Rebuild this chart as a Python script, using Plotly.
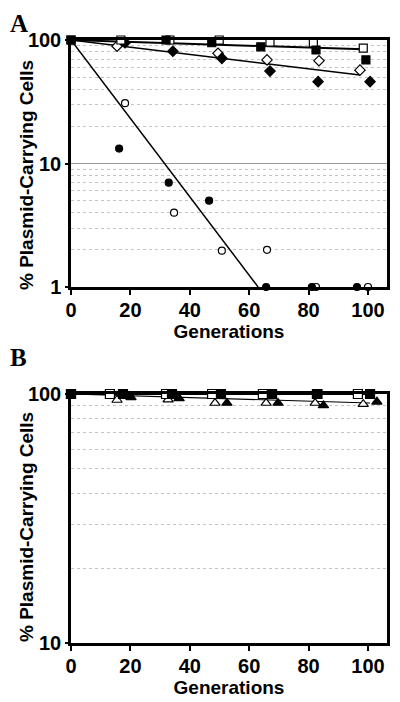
import plotly.graph_objects as go

# ---------------- Panel A data ----------------
a_open_sq_x = [0, 16.8, 33.3, 49.9, 67, 81.6, 98.4]
a_open_sq_y = [100, 100, 100, 100, 96, 95, 86]
a_fill_sq_x = [0, 32, 47.4, 63.9, 82.5, 99.3]
a_fill_sq_y = [100, 100, 95, 88, 83, 69]
a_open_di_x = [15.5, 49.5, 66, 83.5, 97.3]
a_open_di_y = [89, 78, 69, 68, 57]
a_fill_di_x = [18.2, 34.3, 50.8, 67, 83.2, 100.7]
a_fill_di_y = [95, 81, 71, 56, 46, 46]
a_open_ci_x = [18.2, 34.7, 50.8, 66, 82.5, 100]
a_open_ci_y = [30.8, 4.0, 1.97, 2.0, 1, 1]
a_fill_ci_x = [16.2, 32.9, 46.5, 65.7, 81.1, 96.3]
a_fill_ci_y = [13.2, 7.0, 5.0, 1, 1, 1]

a_fit_sq_x = [0, 98.4]
a_fit_sq_y = [100, 84]
a_fit_di_x = [0, 97.3]
a_fit_di_y = [100, 52]
a_fit_ci_x = [0, 63]
a_fit_ci_y = [100, 1]

# ---------------- Panel B data ----------------
b_open_sq_x = [0, 13.1, 32, 47.5, 64.6, 82.8, 96.6]
b_open_sq_y = [100, 100, 100, 100, 100, 100, 100]
b_fill_sq_x = [0, 17.5, 34, 50.5, 67.7, 83, 100.7]
b_fill_sq_y = [100, 100, 100, 100, 100, 100, 100]
b_open_tr_x = [15.5, 32.7, 48.5, 65.7, 82.2, 98.4]
b_open_tr_y = [94.6, 95, 92, 92, 92, 91]
b_fill_tr_x = [20.2, 36.4, 52.5, 69.7, 85, 103]
b_fill_tr_y = [97, 96, 92, 92, 90, 93]

b_fit_sq_x = [0, 100.7]
b_fit_sq_y = [100, 100]
b_fit_tr_x = [0, 100.7]
b_fit_tr_y = [100, 92]

x_ticks = [0, 20, 40, 60, 80, 100]
a_y_ticks = [1, 10, 100]
b_y_ticks = [10, 100]
a_minor = [v * m for m in (1, 10) for v in range(2, 10)]
b_minor = [v * 10 for v in range(2, 10)]
y_title = "% Plasmid-Carrying Cells"
x_title = "Generations"

FONT = "Liberation Sans"
OFF = 8          # page body margin
W, H = 400 - OFF, 702 - OFF


def px(x):
    return (x - OFF) / W


def py(y):
    return 1 - (y - OFF) / H


fig = go.Figure()


def line(x, y, xa, ya, w=1.5):
    fig.add_trace(go.Scatter(x=x, y=y, mode="lines", xaxis=xa, yaxis=ya,
                             line=dict(color="black", width=w), showlegend=False,
                             hoverinfo="skip"))


def pts(x, y, sym, filled, xa, ya, size=7):
    fig.add_trace(go.Scatter(
        x=x, y=y, mode="markers", xaxis=xa, yaxis=ya, showlegend=False,
        cliponaxis=False,
        marker=dict(symbol=sym, size=size, color="black" if filled else "white",
                    line=dict(color="black", width=1.2))))


# Panel A
line(a_fit_sq_x, a_fit_sq_y, "x", "y", 2)
line(a_fit_di_x, a_fit_di_y, "x", "y", 1.5)
line(a_fit_ci_x, a_fit_ci_y, "x", "y", 1.5)
pts(a_open_ci_x, a_open_ci_y, "circle", False, "x", "y")
pts(a_fill_ci_x, a_fill_ci_y, "circle", True, "x", "y")
pts(a_open_di_x, a_open_di_y, "diamond", False, "x", "y", 8)
pts(a_fill_di_x, a_fill_di_y, "diamond", True, "x", "y", 8)
pts(a_open_sq_x, a_open_sq_y, "square", False, "x", "y", 8)
pts(a_fill_sq_x, a_fill_sq_y, "square", True, "x", "y", 8)

# Panel B
line(b_fit_sq_x, b_fit_sq_y, "x2", "y2", 2)
line(b_fit_tr_x, b_fit_tr_y, "x2", "y2", 1.2)
pts(b_open_tr_x, b_open_tr_y, "triangle-up", False, "x2", "y2", 9)
pts(b_fill_tr_x, b_fill_tr_y, "triangle-up", True, "x2", "y2", 9)
pts(b_open_sq_x, b_open_sq_y, "square", False, "x2", "y2", 9)
pts(b_fill_sq_x, b_fill_sq_y, "square", True, "x2", "y2", 9)

tickfont = dict(family=FONT, size=20, color="black", weight="bold")
titlefont = dict(family=FONT, size=19, color="black", weight="bold")

xcommon = dict(range=[0, 106.4], tickvals=x_ticks, ticks="outside", ticklen=5,
               tickwidth=1.5, tickcolor="black", showline=True, linewidth=2.5,
               linecolor="black", mirror=True, showgrid=False, zeroline=False,
               automargin=False, ticklabelstandoff=-2,
               tickfont=tickfont, title=dict(text=x_title, font=titlefont, standoff=4))

ycommon = dict(type="log", ticks="outside", ticklen=3, tickwidth=1.5,
               tickcolor="black", showline=True, linewidth=2.5, linecolor="black",
               mirror=True, automargin=False, tickfont=tickfont, zeroline=False)

fig.update_layout(
    width=W, height=H, margin=dict(l=0, r=0, t=0, b=0),
    paper_bgcolor="white", plot_bgcolor="white",
    xaxis=dict(domain=[px(71), px(387)], anchor="y", **xcommon),
    xaxis2=dict(domain=[px(71), px(387)], anchor="y2", **xcommon),
    yaxis=dict(domain=[py(287), py(40)], anchor="x", range=[0, 2],
               tickvals=a_y_ticks, ticktext=[str(v) for v in a_y_ticks],
               showgrid=True, gridcolor="#9a9a9a", gridwidth=1,
               minor=dict(tickvals=a_minor, showgrid=True, gridcolor="#c4c4c4",
                          griddash="dot", gridwidth=1, ticks=""),
               **ycommon),
    yaxis2=dict(domain=[py(643), py(394)], anchor="x2", range=[1, 2],
                tickvals=b_y_ticks, ticktext=[str(v) for v in b_y_ticks],
                showgrid=False,
                minor=dict(tickvals=b_minor, showgrid=True, gridcolor="#c4c4c4",
                           griddash="dot", gridwidth=1, ticks=""),
                **ycommon),
    annotations=[
        dict(text="A", x=0, y=1, xref="paper", yref="paper",
             xanchor="left", yanchor="top", showarrow=False,
             font=dict(family="Liberation Serif", size=25, color="black", weight="bold")),
        dict(text="B", x=0, y=py(342), xref="paper", yref="paper",
             xanchor="left", yanchor="top", showarrow=False,
             font=dict(family="Liberation Serif", size=25, color="black", weight="bold")),
        dict(text=y_title, x=px(26), y=py(175), xref="paper", yref="paper",
             xanchor="center", yanchor="middle", textangle=-90, showarrow=False,
             font=titlefont),
        dict(text=y_title, x=px(26), y=py(527), xref="paper", yref="paper",
             xanchor="center", yanchor="middle", textangle=-90, showarrow=False,
             font=titlefont),
    ],
)

fig.write_html("out.html")
